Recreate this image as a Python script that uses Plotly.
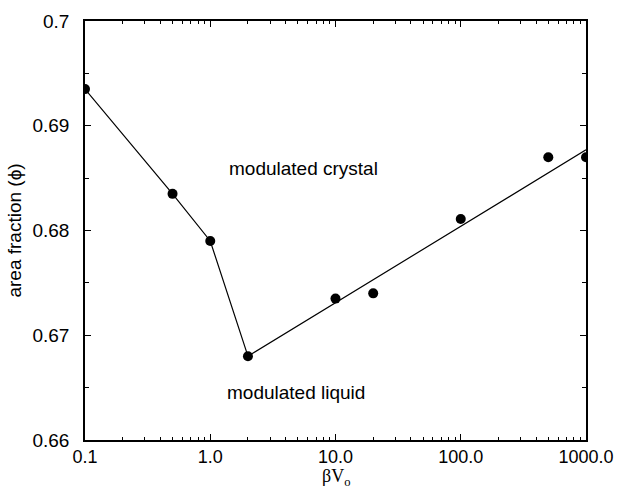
import plotly.graph_objects as go

# data
bv = [0.1, 0.5, 1.0, 2.0, 10.0, 20.0, 100.0, 500.0, 1000.0]
phi = [0.6935, 0.6835, 0.679, 0.668, 0.6735, 0.674, 0.6811, 0.687, 0.687]

boundary_x = [0.1, 0.5, 1.0, 2.0, 1000.0]
boundary_y = [0.6935, 0.6835, 0.679, 0.668, 0.6877]

x_tickvals = [0.1, 1, 10, 100, 1000]
x_ticktext = ["0.1", "1.0", "10.0", "100.0", "1000.0"]
y_tickvals = [0.66, 0.67, 0.68, 0.69, 0.70]
y_ticktext = ["0.66", "0.67", "0.68", "0.69", "0.7"]

minor_x = [m * d for d in [0.1, 1, 10, 100] for m in range(2, 10)]

fig = go.Figure()
fig.add_trace(go.Scatter(x=boundary_x, y=boundary_y, mode="lines",
                         line=dict(color="black", width=1.2), showlegend=False))
fig.add_trace(go.Scatter(x=bv, y=phi, mode="markers",
                         marker=dict(color="black", size=10), showlegend=False))

fig.add_annotation(x=0.745, y=0.6859, xref="x", yref="y", text="modulated crystal",
                   showarrow=False, font=dict(family="Arial", size=19, color="black"))
fig.add_annotation(x=0.681, y=0.6645, xref="x", yref="y", text="modulated liquid",
                   showarrow=False, font=dict(family="Arial", size=19, color="black"))
# x-axis title placed below tick labels
fig.add_annotation(x=0.5, y=-0.1193, xref="paper", yref="paper", yanchor="bottom",
                   text="βV<sub>o</sub>", showarrow=False, borderpad=0,
                   font=dict(family="Times New Roman, Liberation Serif, serif", size=18, color="black"))

axis_common = dict(showline=True, linecolor="black", linewidth=1.5, mirror="ticks",
                   ticks="inside", tickcolor="black", showgrid=False, zeroline=False,
                   automargin=False)

fig.update_xaxes(type="log", range=[-1, 3], tickvals=x_tickvals, ticktext=x_ticktext,
                 ticklen=6, tickwidth=1, ticklabeloverflow="allow",
                 minor=dict(tickvals=minor_x, ticks="inside", ticklen=3, tickcolor="black", showgrid=False),
                 tickfont=dict(family="Arial", size=18, color="black"),
                 **axis_common)
fig.update_yaxes(range=[0.66, 0.70], tickvals=y_tickvals, ticktext=y_ticktext,
                 ticklen=6, tickwidth=1, ticklabelstandoff=10, ticklabeloverflow="allow",
                 minor=dict(dtick=0.005, ticks="inside", ticklen=4, tickcolor="black", showgrid=False),
                 tickfont=dict(family="Arial", size=19, color="black"),
                 title=dict(text="area fraction (ϕ)", standoff=6,
                            font=dict(family="Arial", size=19, color="black")),
                 **axis_common)

fig.update_layout(width=617, height=490, plot_bgcolor="white", paper_bgcolor="white",
                  margin=dict(l=85, r=31, t=21, b=50))

fig.write_html("out.html")
